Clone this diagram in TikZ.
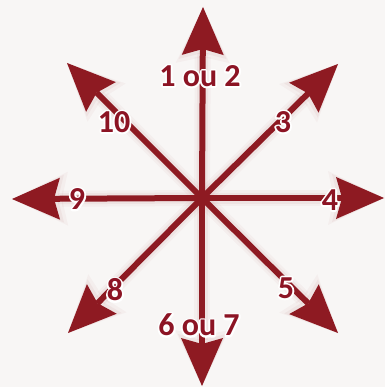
\documentclass[tikz,border=0pt]{standalone}
\usepackage{fontspec}
\setmainfont{Carlito}
\usetikzlibrary{arrows.meta}
\definecolor{arrred}{HTML}{8E1A22}
\definecolor{txtred}{HTML}{8C1424}
\definecolor{bgcol}{HTML}{F8F6F5}
\newcommand\halo[1]{\leavevmode
  \rlap{{\color{white}\special{pdf:literal direct 2 Tr 3.6 w 1 j}#1\special{pdf:literal direct 0 Tr}}}#1}
\begin{document}
\begin{tikzpicture}[x=1pt,y=-1pt,
  arr/.style={draw=arrred, line width=6pt,
    -{Stealth[length=48pt,width=42pt,inset=6pt,line width=0pt]}},
  glow/.style={draw=arrred, line width=16pt, opacity=0.035,
    -{Stealth[length=56pt,width=54pt,inset=6pt,line width=0pt]}},
  glowb/.style={draw=arrred, line width=11pt, opacity=0.05,
    -{Stealth[length=52pt,width=48pt,inset=6pt,line width=0pt]}},
  lbl/.style={font=\bfseries\fontsize{32}{32}\selectfont, text=txtred, inner sep=0pt}]
\fill[bgcol] (0,0) rectangle (385,387);
\useasboundingbox (0,0) rectangle (385,387);
\coordinate (c) at (202,198);
\coordinate (tN) at (203,7);
\coordinate (tS) at (202,386);
\coordinate (tW) at (12,199);
\coordinate (tE) at (384,198);
\coordinate (tNW) at (67,63);
\coordinate (tNE) at (338,64);
\coordinate (tSW) at (68,333);
\coordinate (tSE) at (338,333);
\foreach \t in {tN,tS,tW,tE,tNW,tNE,tSW,tSE}{\draw[glow] (c) -- (\t);}
\foreach \t in {tN,tS,tW,tE,tNW,tNE,tSW,tSE}{\draw[glowb] (c) -- (\t);}
\foreach \t in {tN,tS,tW,tE,tNW,tNE,tSW,tSE}{\draw[arr] (c) -- (\t);}
\node[lbl] (l12) at (200,76) {\halo{1 ou 2}};
\node[lbl] (l67) at (199,325) {\halo{6 ou 7}};
\node[lbl] (l10) at (114,122) {\halo{10}};
\node[lbl] (l3) at (283,122) {\halo{3}};
\node[lbl] (l9) at (77,199) {\halo{9}};
\node[lbl] (l4) at (330,200) {\halo{4}};
\node[lbl] (l8) at (115,290) {\halo{8}};
\node[lbl] (l5) at (286,288) {\halo{5}};
\end{tikzpicture}
\end{document}
